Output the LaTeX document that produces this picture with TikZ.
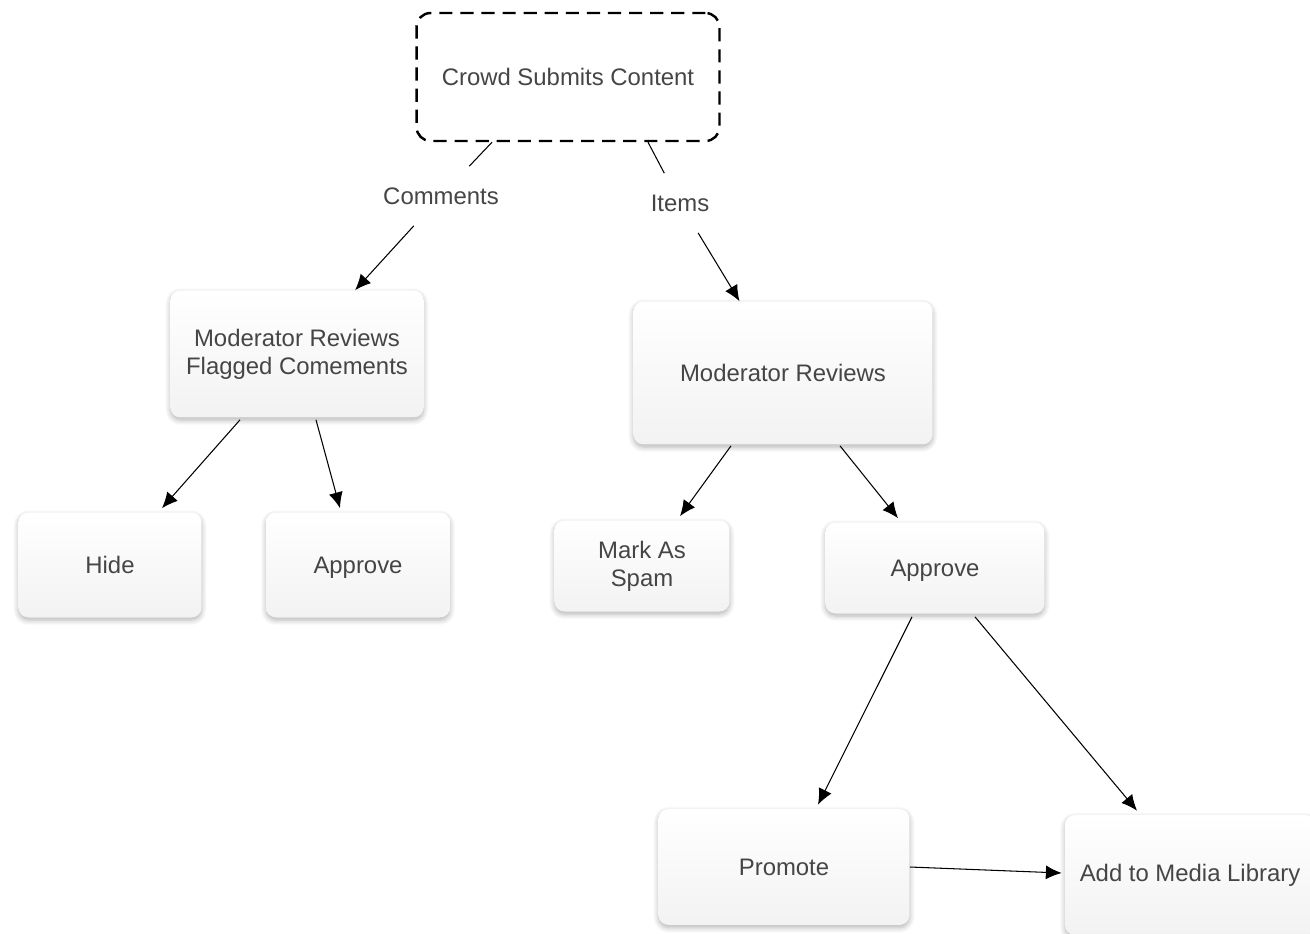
\documentclass[tikz,border=0pt]{standalone}
\usepackage{fontspec}
\setmainfont{Liberation Sans}
\usepackage{tikz}
\usetikzlibrary{calc,arrows.meta,shadows.blur}
\definecolor{txt}{HTML}{454545}
\tikzset{
	box/.style = {rounded corners=0.2cm, inner sep=0, align=center, text=txt,
		top color=white, bottom color=black!5, draw=none,
		blur shadow={shadow xshift=0pt, shadow yshift=-1.5pt, shadow blur radius=3pt, shadow blur steps=6, shadow opacity=30}},
	dashbox/.style = {rounded corners=0.28cm, inner sep=0, align=center, text=txt,
		draw=black, line width=1.4pt, dash pattern=on 7.5pt off 4.5pt},
	lbl/.style = {text=txt, inner sep=0, minimum width=2.4cm, minimum height=1.18cm},
	arr/.style = {-{Latex[length=9pt,width=8pt]}, line width=0.6pt}
}
\begin{document}
\begin{tikzpicture}[x=0.02cm, y=-0.02cm, font=\fontsize{13.6}{16}\selectfont]
	\useasboundingbox (0,0) rectangle (1310,933);
	%top
	\node [dashbox, minimum width=6.06cm, minimum height=2.56cm] (CS) at (568,77) {Crowd Submits Content};
	%labels
	\node [lbl] (Cm) at (441,196) {Comments};
	\node [lbl] (It) at (680,203) {Items};
	%comments side
	\node [box, minimum width=5.06cm, minimum height=2.54cm] (MF) at (297,354) {Moderator Reviews\\Flagged Comements};
	\node [box, minimum width=3.66cm, minimum height=2.1cm] (H) at (110,565) {Hide};
	\node [box, minimum width=3.68cm, minimum height=2.1cm, text depth=0pt] (AL) at (358,565) {Approve};
	%items side
	\node [box, minimum width=5.98cm, minimum height=2.86cm] (MR) at (783,373) {Moderator Reviews};
	\node [box, minimum width=3.5cm, minimum height=1.82cm] (S) at (642,566) {Mark As\\Spam};
	\node [box, minimum width=4.38cm, minimum height=1.82cm, text depth=0pt] (AR) at (935,568) {Approve};
	\node [box, minimum width=5.02cm, minimum height=2.32cm] (P) at (784,867) {Promote};
	\node [box, minimum width=5cm, minimum height=2.4cm] (ML) at (1190,875) {Add to Media Library};
	
	%connectors
	\draw[line width=0.6pt] ($(CS.south)+(-76,0)$) -- (Cm);
	\draw[arr] (Cm) -- (MF);
	\draw[line width=0.6pt] ($(CS.south)+(80,0)$) -- (It);
	\draw[arr] (It) -- (MR);
	\draw[arr] ($(MF.south)+(-57,2)$) -- ($(H.north)+(52,-4)$);
	\draw[arr] ($(MF.south)+(19,2)$) -- ($(AL.north)+(-18,-4)$);
	\draw[arr] ($(MR.south)+(-52,1)$) -- ($(S.north)+(38,-4)$);
	\draw[arr] ($(MR.south)+(57,1)$) -- ($(AR.north)+(-37,-4)$);
	\draw[arr] ($(AR.south)+(-23,3)$) -- ($(P.north)+(34,-4)$);
	\draw[arr] ($(AR.south)+(40,3)$) -- ($(ML.north)+(-53,-4)$);
	\draw[arr] (P.east) -- ($(ML.west)+(-3,-2)$);
\end{tikzpicture}
\end{document}
